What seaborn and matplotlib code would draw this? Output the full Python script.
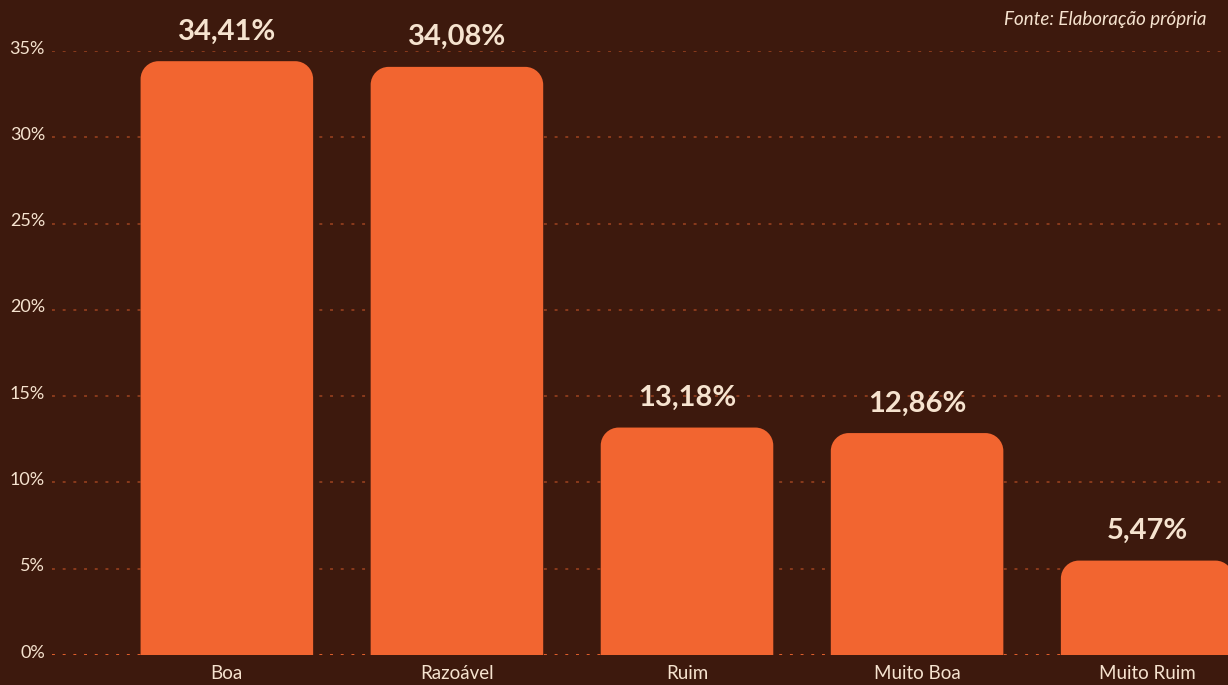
import matplotlib
matplotlib.use('Agg')
import matplotlib.pyplot as plt
import matplotlib.transforms as mtransforms
import seaborn as sns
import pandas as pd
from matplotlib.path import Path
from matplotlib.patches import PathPatch

categories = ['Boa', 'Razoável', 'Ruim', 'Muito Boa', 'Muito Ruim']
values = [34.41, 34.08, 13.18, 12.86, 5.47]
value_labels = ['34,41%', '34,08%', '13,18%', '12,86%', '5,47%']
y_ticks = [0, 5, 10, 15, 20, 25, 30, 35]

BG = '#3D190D'
BAR = '#F26530'
TXT = '#F6E3CF'
GRID = '#8A3A1C'
ZERO = '#E2602C'

sns.set_theme(style='white')
plt.rcParams['font.family'] = ['Lato', 'DejaVu Sans']

df = pd.DataFrame({'cat': categories, 'val': values})

fig = plt.figure(figsize=(12.28, 6.85), dpi=100, facecolor=BG)
ax = fig.add_axes([52 / 1228, 30 / 685, 1270 / 1228, 604 / 685])
ax.set_facecolor(BG)

sns.barplot(data=df, x='cat', y='val', color=BAR, width=0.75, saturation=1, ax=ax, zorder=3)

ax.set_xlim(-0.76, 4.76)
ax.set_ylim(0, 35)

# swap plain bars for ones with rounded top corners
rx, ry = 0.078, 1.04
k = 0.5523
for p in list(ax.patches):
    x0, w, h = p.get_x(), p.get_width(), p.get_height()
    p.remove()
    verts = [(x0, 0), (x0, h - ry), (x0, h - ry + k * ry), (x0 + rx - k * rx, h), (x0 + rx, h),
             (x0 + w - rx, h), (x0 + w - rx + k * rx, h), (x0 + w, h - ry + k * ry), (x0 + w, h - ry),
             (x0 + w, 0), (x0, 0)]
    codes = [Path.MOVETO, Path.LINETO, Path.CURVE4, Path.CURVE4, Path.CURVE4,
             Path.LINETO, Path.CURVE4, Path.CURVE4, Path.CURVE4, Path.LINETO, Path.CLOSEPOLY]
    ax.add_patch(PathPatch(Path(verts, codes), facecolor=BAR, edgecolor='none', zorder=3))

for y in y_ticks:
    ax.axhline(y, color=ZERO if y == 0 else GRID, linestyle=(0, (1.5, 4)), linewidth=1.4, zorder=1)

for i, (v, lab) in enumerate(zip(values, value_labels)):
    ax.annotate(lab, (i, v), xytext=(0, 12), textcoords='offset points', ha='center', va='bottom',
                fontsize=21, fontweight='bold', color=TXT, annotation_clip=False)

ax.set_yticks(y_ticks)
ax.set_yticklabels([f'{t}%' for t in y_ticks])
ax.tick_params(axis='y', colors=TXT, labelsize=13, length=0, pad=5)
ax.tick_params(axis='x', colors=TXT, labelsize=13.5, length=0, pad=7)
# y tick labels sit a little above their grid lines
shift = mtransforms.ScaledTranslation(0, 4 / 100, fig.dpi_scale_trans)
for t in ax.get_yticklabels():
    t.set_transform(t.get_transform() + shift)
ax.set_xlabel('')
ax.set_ylabel('')
sns.despine(ax=ax, left=True, bottom=True)

fig.text(1004 / 1228, 1 - 19 / 685, 'Fonte: Elaboração própria', ha='left', va='center',
         fontsize=13.5, style='italic', color=TXT)

fig.savefig('out.png', dpi=100, facecolor=BG)
